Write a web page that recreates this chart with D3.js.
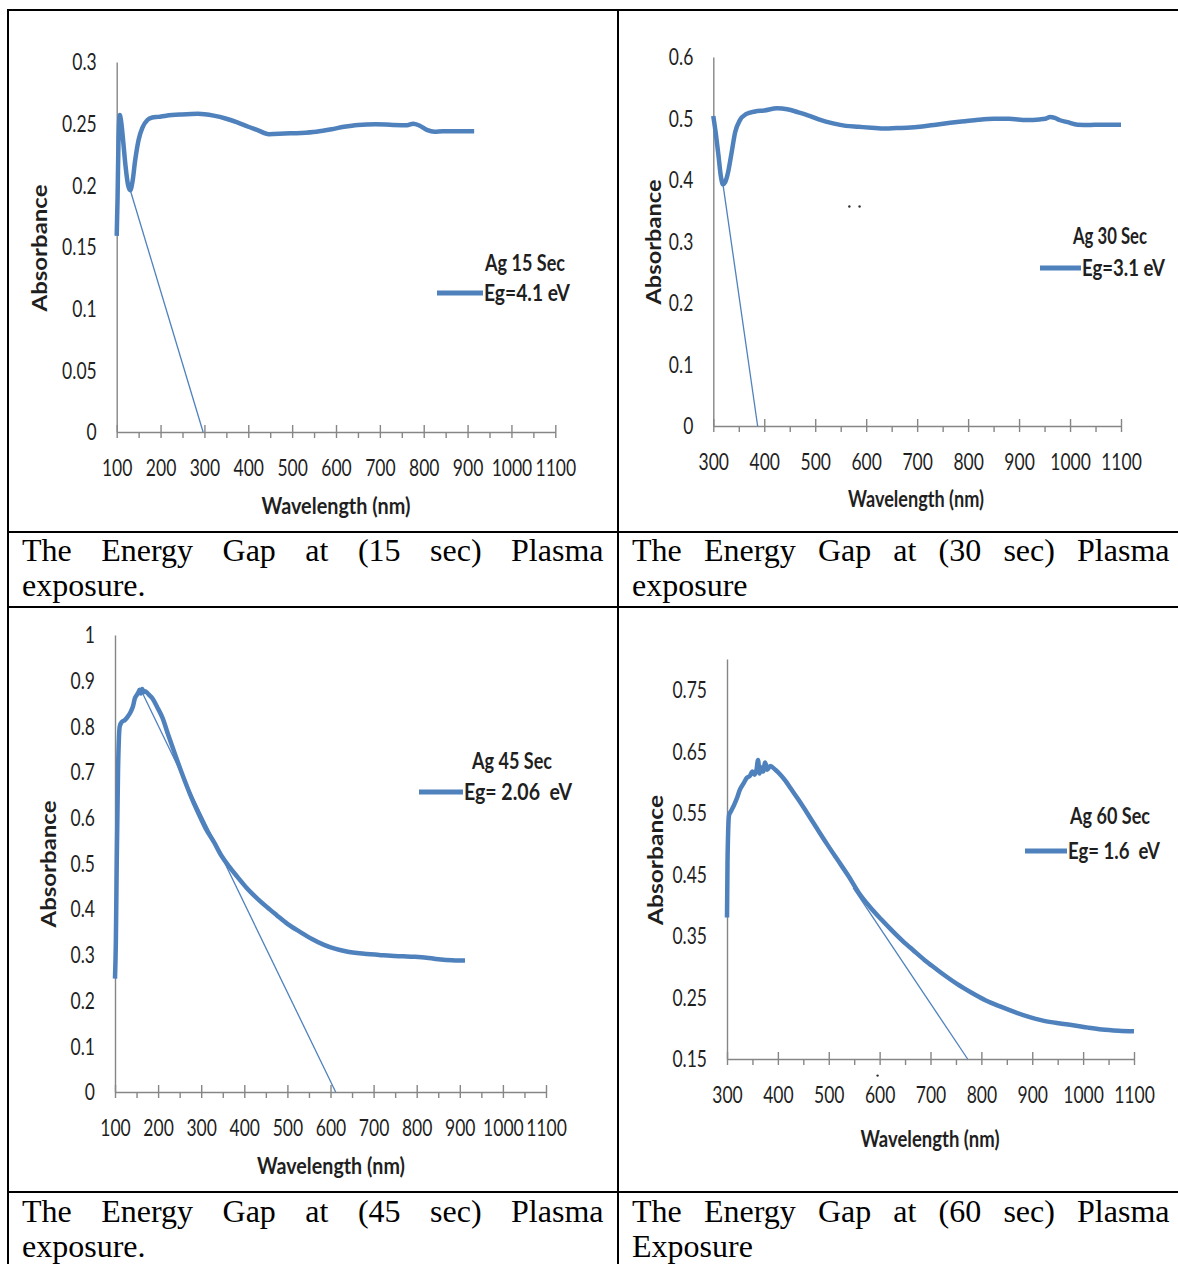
<!DOCTYPE html>
<html>
<head>
<meta charset="utf-8">
<script src="https://cdn.jsdelivr.net/npm/d3@7"></script>
<style>
body { margin: 0; background: #fff; }
svg { display: block; }
</style>
</head>
<body>
<div id="graphic"></div>
<script>
// values (wavelength nm / absorbance)
var wl15 = [100, 102, 104, 107, 110, 115, 120, 126, 131, 136, 142, 150, 159, 170, 181, 195, 213, 249, 285, 321, 350, 375, 400, 420, 447, 483, 520, 555, 590, 618, 650, 690, 730, 762, 776, 790, 807, 825, 843, 880, 915]
var abs15 = [0.159, 0.19, 0.235, 0.257, 0.252, 0.235, 0.216, 0.2, 0.196, 0.203, 0.22, 0.237, 0.247, 0.253, 0.255, 0.2555, 0.2565, 0.2575, 0.258, 0.2565, 0.254, 0.251, 0.2475, 0.245, 0.2415, 0.242, 0.2425, 0.2435, 0.2455, 0.2475, 0.249, 0.2495, 0.249, 0.2488, 0.25, 0.2485, 0.245, 0.2435, 0.2438, 0.2438, 0.2438]

var wl30 = [300, 305, 310, 315, 319, 323, 328, 335, 343, 352, 364, 382, 400, 425, 445, 467, 490, 510, 535, 560, 585, 610, 638, 660, 680, 710, 737, 765, 794, 820, 851, 880, 915, 940, 951, 961, 970, 979, 995, 1015, 1040, 1058, 1080, 1100]
var abs30 = [0.504, 0.475, 0.441, 0.405, 0.393, 0.396, 0.409, 0.44, 0.478, 0.497, 0.507, 0.5115, 0.513, 0.5165, 0.515, 0.51, 0.504, 0.4976, 0.492, 0.488, 0.4865, 0.485, 0.4837, 0.4845, 0.485, 0.487, 0.49, 0.493, 0.4957, 0.498, 0.4995, 0.4995, 0.4976, 0.4985, 0.4995, 0.5026, 0.501, 0.4976, 0.494, 0.49, 0.4895, 0.49, 0.49, 0.49]

var wl45 = [100, 102, 104, 107, 111, 116, 123, 130, 137, 142, 146, 150, 154, 157, 160, 163, 166, 170, 178, 187, 198, 210, 223, 237, 255, 274, 292, 310, 330, 347, 365, 384, 405, 429, 452, 475, 500, 530, 557, 585, 612, 640, 685, 713, 740, 768, 795, 823, 845, 868, 890, 912]
var abs45 = [0.248, 0.33, 0.5, 0.7, 0.8, 0.81, 0.814, 0.822, 0.833, 0.845, 0.861, 0.868, 0.874, 0.88, 0.872, 0.882, 0.875, 0.877, 0.87, 0.861, 0.842, 0.819, 0.783, 0.745, 0.698, 0.652, 0.613, 0.5775, 0.546, 0.517, 0.493, 0.4707, 0.447, 0.4243, 0.405, 0.387, 0.368, 0.35, 0.335, 0.322, 0.313, 0.307, 0.302, 0.3, 0.298, 0.297, 0.296, 0.294, 0.291, 0.289, 0.288, 0.288]

var wl60 = [300, 301, 302, 304, 308, 314, 320, 325, 332, 339, 345, 350, 354, 358, 361, 364, 367, 371, 375, 379, 385, 395, 405, 415, 425, 440, 455, 475, 496, 517, 539, 560, 581, 603, 624, 645, 667, 688, 710, 731, 752, 780, 809, 838, 866, 895, 923, 952, 980, 1010, 1037, 1070, 1100]
var abs60 = [0.38, 0.47, 0.511, 0.546, 0.553, 0.563, 0.575, 0.587, 0.597, 0.607, 0.61, 0.617, 0.612, 0.62, 0.636, 0.614, 0.624, 0.617, 0.632, 0.62, 0.626, 0.62, 0.612, 0.602, 0.59, 0.572, 0.553, 0.527, 0.5, 0.474, 0.447, 0.419, 0.397, 0.377, 0.359, 0.342, 0.326, 0.311, 0.297, 0.284, 0.272, 0.258, 0.245, 0.235, 0.226, 0.218, 0.212, 0.208, 0.205, 0.201, 0.198, 0.196, 0.195]

// band-gap extrapolation lines (start / end)
var tanWl15 = [131, 297], tanAbs15 = [0.196, 0]
var tanWl30 = [319, 387], tanAbs30 = [0.393, 0]
var tanWl45 = [160, 612], tanAbs45 = [0.88, 0]
var tanWl60 = [548, 773], tanAbs60 = [0.428, 0.15]

// stray specks in the scanned plots (wavelength / absorbance)
var speckWl30 = [567, 587], speckAbs30 = [0.357, 0.357]
var speckWl60 = [596], speckAbs60 = [0.123]

// axis ticks
var xMajorA = [100, 200, 300, 400, 500, 600, 700, 800, 900, 1000, 1100]
var xMinorA = [150, 250, 350, 450, 550, 650, 750, 850, 950, 1050]
var xMajorB = [300, 400, 500, 600, 700, 800, 900, 1000, 1100]
var xMinorB = [350, 450, 550, 650, 750, 850, 950, 1050]
var yTicks15 = [0, 0.05, 0.1, 0.15, 0.2, 0.25, 0.3]
var yTicks30 = [0, 0.1, 0.2, 0.3, 0.4, 0.5, 0.6]
var yTicks45 = [0, 0.1, 0.2, 0.3, 0.4, 0.5, 0.6, 0.7, 0.8, 0.9, 1]
var yTicks60 = [0.15, 0.25, 0.35, 0.45, 0.55, 0.65, 0.75]

var legendTitles = ['Ag 15 Sec', 'Ag 30 Sec', 'Ag 45 Sec', 'Ag 60 Sec']
var legendGaps = ['Eg=4.1 eV', 'Eg=3.1 eV', 'Eg= 2.06  eV', 'Eg= 1.6  eV']
var captionLine1 = ['The Energy Gap at (15 sec) Plasma', 'The Energy Gap at (30 sec) Plasma',
                    'The Energy Gap at (45 sec) Plasma', 'The Energy Gap at (60 sec) Plasma']
var captionLine2 = ['exposure.', 'exposure', 'exposure.', 'Exposure']

var blue = '#4f81bd'
var axisGrey = '#868686'
var chartFont = 'Lato, "Open Sans", sans-serif'
var stretch = 1.27   // the charts were pasted slightly stretched vertically

var panels = [
    { wl: wl15, abs: abs15, tw: tanWl15, ta: tanAbs15, sw: [], sa: [], xDom: [100, 1100], yDom: [0, 0.3], xMajor: xMajorA, xMinor: xMinorA, yTicks: yTicks15,
      box: { l: 116.7, r: 555.3, t: 62, b: 432 }, xt: [336, 506, 149], yt: [40, 248, 127],
      leg: { tx: 525, tw: 80, y1: 263, ex: 484, ew: 86, y2: 293, lx: 437 } },
    { wl: wl30, abs: abs30, tw: tanWl30, ta: tanAbs30, sw: speckWl30, sa: speckAbs30, xDom: [300, 1100], yDom: [0, 0.6], xMajor: xMajorB, xMinor: xMinorB, yTicks: yTicks30,
      box: { l: 713.3, r: 1121, t: 57, b: 426 }, xt: [916, 499, 136], yt: [654, 242, 125],
      leg: { tx: 1110, tw: 74, y1: 236, ex: 1082, ew: 83, y2: 268, lx: 1040 } },
    { wl: wl45, abs: abs45, tw: tanWl45, ta: tanAbs45, sw: [], sa: [], xDom: [100, 1100], yDom: [0, 1], xMajor: xMajorA, xMinor: xMinorA, yTicks: yTicks45,
      box: { l: 115, r: 546, t: 635, b: 1092 }, xt: [331, 1166, 148], yt: [49, 864, 127],
      leg: { tx: 512, tw: 80, y1: 761, ex: 464, ew: 108, y2: 792, lx: 419 } },
    { wl: wl60, abs: abs60, tw: tanWl60, ta: tanAbs60, sw: speckWl60, sa: speckAbs60, xDom: [300, 1100], yDom: [0.15, 0.8], xMajor: xMajorB, xMinor: xMinorB, yTicks: yTicks60,
      box: { l: 727, r: 1134, t: 659, b: 1059 }, xt: [930, 1139, 139], yt: [656, 860, 130],
      leg: { tx: 1110, tw: 80, y1: 816, ex: 1068, ew: 92, y2: 851, lx: 1025 } }
]

// caption cells: left / right text edge and first baseline
var cells = [
    { l: 22, r: 603.5, base: 561 },
    { l: 632, r: 1169.5, base: 561 },
    { l: 22, r: 603.5, base: 1222 },
    { l: 632, r: 1169.5, base: 1222 }
]

var svg = d3.select('#graphic').append('svg')
    .attr('width', 1178)
    .attr('height', 1264)

function translate(x, y) {
    return 'translate(' + x + ',' + y + ')'
}

function fmt(d) {
    return String(+d.toFixed(2))
}

// text that can be stretched like the pasted excel pictures
function label(g, s, x, y, o) {
    var t = g.append('text')
        .text(s)
        .attr('font-family', chartFont)
        .attr('font-size', o.size || 17.5)
        .attr('font-weight', o.bold ? 700 : 400)
        .attr('fill', '#1f1f1f')
        .attr('text-anchor', o.anchor || 'middle')
        .attr('dy', '0.35em')
        .style('white-space', 'pre')
        .attr('transform', translate(x, y) + ' rotate(' + (o.rot || 0) + ') scale(1,' + (o.sy || 1) + ')')
    if (o.width) t.attr('textLength', o.width).attr('lengthAdjust', 'spacingAndGlyphs')
    return t
}

function drawPanel(p, i) {
    var g = svg.append('g').attr('class', 'panel')
    var x = d3.scaleLinear().domain(p.xDom).range([p.box.l, p.box.r])
    var y = d3.scaleLinear().domain(p.yDom).range([p.box.b, p.box.t])

    // y axis, labels only
    var ya = g.append('g')
        .attr('transform', translate(p.box.l, 0))
        .call(d3.axisLeft(y).tickValues(p.yTicks).tickSize(0).tickPadding(20).tickFormat(fmt))
    ya.selectAll('.tick text')
        .attr('dy', '0.35em')
        .attr('transform', 'scale(1,' + stretch + ')')

    // x axis: major ticks cross, minor ticks outside
    var xa = g.append('g')
        .attr('transform', translate(0, p.box.b))
        .call(d3.axisBottom(x).tickValues(p.xMajor).tickSizeInner(6).tickSizeOuter(0).tickFormat(d3.format('d')))
    xa.selectAll('.tick line').attr('y1', -7).attr('y2', 6)
    xa.selectAll('.tick text')
        .attr('y', 0)
        .attr('dy', '0.35em')
        .attr('transform', 'translate(0,36) scale(1,' + stretch + ')')

    var xm = g.append('g')
        .attr('transform', translate(0, p.box.b))
        .call(d3.axisBottom(x).tickValues(p.xMinor).tickSizeInner(6).tickSizeOuter(0).tickFormat(''))
    xm.select('.domain').remove()

    g.selectAll('.domain, .tick line')
        .attr('stroke', axisGrey)
        .attr('stroke-width', 1.4)
    g.selectAll('.tick text')
        .attr('fill', '#1f1f1f')
        .attr('font-family', chartFont)
        .attr('font-size', 17.5)

    // absorbance curve
    var line = d3.line()
        .x(function(k) { return x(p.wl[k]) })
        .y(function(k) { return y(p.abs[k]) })
        .curve(d3.curveMonotoneX)
    g.append('path')
        .attr('d', line(d3.range(p.wl.length)))
        .attr('fill', 'none')
        .attr('stroke', blue)
        .attr('stroke-width', 4.5)
        .attr('stroke-linejoin', 'round')

    // extrapolation to the baseline
    g.append('line')
        .attr('x1', x(p.tw[0])).attr('y1', y(p.ta[0]))
        .attr('x2', x(p.tw[1])).attr('y2', y(p.ta[1]))
        .attr('stroke', blue)
        .attr('stroke-width', 1.3)

    // specks
    g.selectAll('.speck')
        .data(d3.range(p.sw.length))
        .enter().append('circle')
        .attr('class', 'speck')
        .attr('cx', function(k) { return x(p.sw[k]) })
        .attr('cy', function(k) { return y(p.sa[k]) })
        .attr('r', 1.2)
        .attr('fill', '#333')

    // axis titles
    label(g, 'Wavelength (nm)', p.xt[0], p.xt[1], { bold: true, sy: stretch, width: p.xt[2] })
    label(g, 'Absorbance', p.yt[0], p.yt[1], { bold: true, rot: -90, size: 20, width: p.yt[2] })

    // legend
    var lg = g.append('g').attr('class', 'legend')
    label(lg, legendTitles[i], p.leg.tx, p.leg.y1, { bold: true, size: 17.5, sy: stretch, width: p.leg.tw })
    label(lg, legendGaps[i], p.leg.ex, p.leg.y2, { bold: true, size: 17.5, sy: stretch, width: p.leg.ew, anchor: 'start' })
    lg.append('line')
        .attr('x1', p.leg.lx).attr('x2', p.leg.ex - 1)
        .attr('y1', p.leg.y2).attr('y2', p.leg.y2)
        .attr('stroke', blue)
        .attr('stroke-width', 5)
}

panels.forEach(drawPanel)

// justified captions in Times
function drawCaption(c, i) {
    var g = svg.append('g').attr('class', 'caption')
        .attr('font-family', '"Liberation Serif", "Times New Roman", serif')
        .attr('font-size', 32)
        .attr('fill', '#000')
    var words = captionLine1[i].split(' ')
    var widths = words.map(function(w) {
        var t = g.append('text').text(w)
        var wd = t.node().getComputedTextLength()
        t.remove()
        return wd
    })
    var gap = (c.r - c.l - d3.sum(widths)) / (words.length - 1)
    var xx = c.l
    words.forEach(function(w, k) {
        g.append('text').attr('x', xx).attr('y', c.base).text(w)
        xx += widths[k] + gap
    })
    g.append('text').attr('x', c.l).attr('y', c.base + 35).text(captionLine2[i])
}

cells.forEach(drawCaption)

// table rules
var rules = svg.append('g').attr('stroke', '#000').attr('stroke-width', 2)
;[10, 532, 607, 1192].forEach(function(yy) {
    rules.append('line').attr('x1', 7).attr('x2', 1190).attr('y1', yy).attr('y2', yy)
})
;[8, 618, 1184].forEach(function(xx) {
    rules.append('line').attr('x1', xx).attr('x2', xx).attr('y1', 9).attr('y2', 1270)
})
</script>
</body>
</html>
